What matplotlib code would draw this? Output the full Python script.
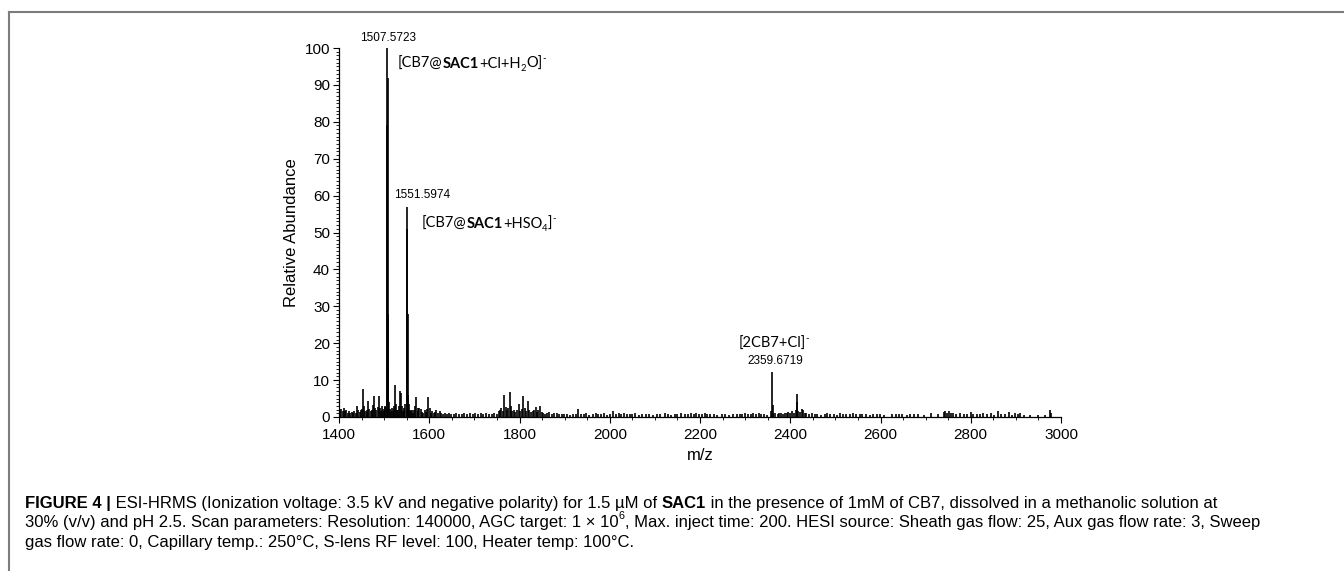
import matplotlib
matplotlib.use("Agg")
import matplotlib.pyplot as plt
from matplotlib.font_manager import FontProperties
from matplotlib.lines import Line2D
from matplotlib.ticker import MultipleLocator

# ===== DATA =====
MZ = [
    1401, 1403, 1405, 1408, 1410, 1413, 1416, 1419, 1422, 1425, 1428, 1431, 1434, 1437, 1440, 1443, 1446, 1449,
    1451, 1453, 1455, 1458, 1461, 1463, 1465, 1467, 1470, 1473, 1476, 1478, 1480, 1483, 1486, 1489, 1491, 1493,
    1495, 1497, 1499, 1501, 1503,
    1505.57, 1506.57, 1507.5723, 1508.57, 1509.57, 1511, 1513, 1515, 1517, 1519, 1521,
    1522, 1524, 1526, 1529, 1531, 1533, 1535, 1537, 1539, 1541, 1543, 1545, 1547,
    1550.60, 1551.5974, 1552.60, 1553.60, 1555, 1557, 1559, 1561, 1564, 1567, 1569, 1571, 1574, 1576, 1578,
    1581, 1584, 1587, 1590, 1593, 1596, 1598, 1601, 1604, 1607, 1610, 1613, 1616, 1619, 1623, 1627, 1631,
    1635, 1639, 1643, 1648, 1654, 1660, 1666, 1672, 1678, 1684, 1690, 1696, 1702, 1708, 1714, 1720, 1726,
    1732, 1738, 1744, 1750, 1754,
    1757, 1760, 1763, 1766, 1769, 1772, 1775, 1778, 1781, 1784, 1788, 1791, 1795, 1798, 1802, 1805, 1808,
    1812, 1815, 1818, 1822, 1826, 1829, 1832, 1836, 1839, 1842, 1845, 1849, 1853, 1857, 1861, 1866, 1871,
    1876, 1882, 1888, 1894, 1899, 1906, 1912, 1918, 1925, 1930, 1936, 1943, 1948, 1955, 1962, 1969, 1975,
    1981, 1988, 1994,
    2001, 2008, 2014, 2020, 2026, 2032, 2038, 2044, 2050, 2056, 2064, 2072, 2080, 2088, 2096, 2104, 2112,
    2122, 2128, 2136, 2144, 2150, 2158, 2166, 2174, 2180, 2186, 2192, 2198, 2204, 2210, 2216, 2222, 2230,
    2238, 2248, 2256, 2264, 2274, 2282, 2288, 2294, 2300, 2306, 2312, 2318, 2324, 2330, 2336, 2342, 2348,
    2357.7, 2359.6719, 2360.7, 2362, 2366, 2372, 2376, 2380, 2384, 2388, 2392, 2396, 2400, 2404, 2408,
    2412, 2414.5, 2416, 2418, 2422, 2426, 2428, 2432, 2436, 2442, 2448, 2454, 2460, 2468, 2476, 2482, 2488,
    2496, 2504, 2510, 2516, 2524, 2532, 2538, 2546, 2554, 2560, 2568,
    2576, 2584, 2592, 2598, 2608, 2626, 2634, 2640, 2648, 2658, 2666, 2674, 2682, 2696, 2712, 2728, 2740,
    2744, 2748, 2752, 2756, 2760, 2768, 2776, 2784, 2792, 2800, 2806, 2814, 2820, 2828, 2836, 2844, 2852,
    2860, 2868, 2876, 2884, 2892, 2898, 2904, 2910, 2918, 2932, 2948, 2964, 2976, 2978,
]
ABUNDANCE = [
    2.6, 1.8, 2.2, 1.5, 2.4, 1.6, 1.9, 1.2, 1.5, 1.0, 1.3, 1.1, 1.6, 1.2, 3.0, 1.8, 1.4, 2.0,
    2.2, 7.6, 3.0, 1.5, 2.0, 1.3, 4.4, 2.2, 1.5, 2.0, 3.2, 5.8, 2.5, 1.8, 2.6, 5.8, 2.4, 1.6,
    3.0, 2.2, 1.5, 2.6, 3.0,
    79, 100, 92, 28, 13, 4.0, 2.2, 1.5, 2.5, 1.6, 2.2,
    3.0, 8.7, 3.5, 2.0, 1.8, 3.0, 7.1, 6.4, 3.0, 1.6, 2.4, 2.0, 3.5,
    51, 57, 28, 6.0, 3.5, 2.0, 1.5, 1.8, 1.2, 2.0, 3.0, 5.3, 2.5, 1.6, 2.5,
    2.2, 1.3, 1.2, 1.8, 1.4, 2.2, 5.5, 2.4, 1.2, 1.6, 1.0, 1.4, 1.8, 1.2, 1.5, 1.0, 0.9,
    1.2, 0.8, 1.0, 0.9, 0.8, 1.0, 0.7, 0.9, 1.1, 0.8, 1.0, 0.9, 1.2, 0.8, 1.0, 0.7, 1.1,
    0.9, 0.8, 1.2, 0.9, 1.5,
    2.0, 2.5, 1.6, 6.0, 2.8, 1.8, 2.5, 6.9, 3.0, 1.5, 2.0, 1.4, 1.8, 3.5, 1.6, 2.2, 5.7,
    2.4, 1.5, 4.4, 2.0, 1.3, 1.6, 2.0, 2.6, 1.4, 1.8, 3.0, 1.4, 1.0, 0.8, 1.0, 1.4, 0.8,
    1.0, 1.1, 0.8, 0.7, 0.9, 0.8, 0.6, 0.9, 0.7, 2.3, 0.8, 0.7, 1.0, 0.6, 0.8, 1.0, 0.7,
    0.9, 1.0, 0.6,
    0.8, 1.6, 0.9, 1.0, 0.8, 1.0, 0.7, 0.9, 0.8, 1.0, 0.6, 0.8, 0.7, 0.9, 0.6, 0.7, 0.8,
    1.0, 0.7, 0.6, 0.9, 0.8, 1.0, 0.7, 0.9, 1.0, 0.8, 1.0, 0.8, 0.9, 1.0, 0.7, 0.9, 0.8,
    0.6, 0.7, 0.9, 0.6, 0.7, 0.8, 0.9, 0.7, 1.0, 0.8, 0.9, 1.1, 0.8, 1.0, 0.7, 0.9, 0.6,
    1.5, 12.2, 3.2, 1.0, 1.0, 0.8, 1.2, 1.0, 0.8, 1.2, 1.0, 1.4, 1.2, 1.6, 1.0,
    1.8, 6.2, 4.0, 1.5, 1.3, 2.3, 2.0, 1.0, 1.2, 0.8, 1.0, 0.7, 0.9, 0.6, 0.8, 1.0, 0.7,
    0.8, 0.6, 1.0, 0.8, 0.9, 0.7, 1.0, 0.8, 0.9, 0.7, 0.8,
    0.6, 0.8, 0.7, 0.9, 0.6, 0.7, 0.9, 0.7, 0.8, 0.6, 0.9, 0.7, 0.8, 0.6, 1.0, 0.7, 1.4,
    1.6, 1.2, 1.7, 1.0, 1.2, 0.8, 1.0, 0.7, 0.9, 1.3, 0.7, 0.9, 0.8, 1.0, 0.7, 1.2, 0.6,
    1.5, 0.7, 0.8, 1.3, 0.6, 1.0, 0.8, 1.1, 0.5, 0.5, 0.6, 0.5, 1.9, 1.2,
]

# peak m/z labels: (text, x, baseline y, alignment)
PEAK_LABELS = ["1507.5723", "1551.5974", "2359.6719"]
PEAK_LABEL_POS = [(1508, 101.8, "center"), (1522, 59.3, "left"), (2366, 14.4, "center")]

# ion assignments as runs of (text, style)
ION_LABELS = [
    [("[CB7@", "n"), ("SAC1", "b"), ("+Cl+H", "n"), ("2", "sub"), ("O]", "n"), ("-", "sup")],
    [("[CB7@", "n"), ("SAC1", "b"), ("+HSO", "n"), ("4", "sub"), ("]", "n"), ("-", "sup")],
    [("[2CB7+Cl]", "n"), ("-", "sup")],
]
ION_LABEL_POS = [(1531, 94.6, "left"), (1584, 51.2, "left"), (2364, 18.7, "center")]

CAPTION = [
    [("FIGURE 4 |", "b"), (" ESI-HRMS (Ionization voltage: 3.5 kV and negative polarity) for 1.5 \u00b5M of ", "n"),
     ("SAC1", "b"), (" in the presence of 1mM of CB7, dissolved in a methanolic solution at", "n")],
    [("30% (v/v) and pH 2.5. Scan parameters: Resolution: 140000, AGC target: 1 \u00d7 10", "n"), ("6", "sup"),
     (", Max. inject time: 200. HESI source: Sheath gas flow: 25, Aux gas flow rate: 3, Sweep", "n")],
    [("gas flow rate: 0, Capillary temp.: 250\u00b0C, S-lens RF level: 100, Heater temp: 100\u00b0C.", "n")],
]

# ===== STYLE =====
FIG_W, FIG_H = 1344, 571
AXIS_FONT = "Liberation Sans"
ION_FONT = ["Lato", "DejaVu Sans"]
BORDER_COLOR = "#7d7d7d"

plt.rcParams["font.family"] = AXIS_FONT


def text_width(renderer, s, prop):
    w1, _, _ = renderer.get_text_width_height_descent("|" + s + "|", prop, ismath=False)
    w0, _, _ = renderer.get_text_width_height_descent("||", prop, ismath=False)
    return w1 - w0


def draw_runs(fig, renderer, x_px, y_px, runs, size, family, ha="left"):
    pieces = []
    for text, style in runs:
        fs = size * 0.65 if style in ("sub", "sup") else size
        weight = "bold" if style == "b" else "normal"
        prop = FontProperties(family=family, size=fs, weight=weight)
        pieces.append((text, style, prop, text_width(renderer, text, prop)))
    if ha == "center":
        x_px -= sum(p[3] for p in pieces) / 2
    px_per_pt = fig.dpi / 72
    for text, style, prop, w in pieces:
        dy = {"sub": -0.22 * size, "sup": 0.5 * size}.get(style, 0.0) * px_per_pt
        fig.text(x_px / FIG_W, (y_px + dy) / FIG_H, text, fontproperties=prop, va="baseline", ha="left")
        x_px += w


def main() -> None:
    fig = plt.figure(figsize=(FIG_W / 100, FIG_H / 100), dpi=100)
    renderer = fig.canvas.get_renderer()
    ax = fig.add_axes([339 / FIG_W, 1 - 417 / FIG_H, 722 / FIG_W, 369 / FIG_H])

    ax.vlines(MZ, 0, ABUNDANCE, color="black", linewidth=1.2)
    ax.set_xlim(1400, 3000)
    ax.set_ylim(0, 100)
    ax.spines["top"].set_visible(False)
    ax.spines["right"].set_visible(False)
    for side in ("left", "bottom"):
        ax.spines[side].set_linewidth(0.9)
    ax.xaxis.set_major_locator(MultipleLocator(200))
    ax.xaxis.set_minor_locator(MultipleLocator(50))
    ax.yaxis.set_major_locator(MultipleLocator(10))
    ax.yaxis.set_minor_locator(MultipleLocator(1))
    ax.tick_params(which="major", direction="out", length=4.5, width=0.8, labelsize=11, pad=2)
    ax.tick_params(axis="x", which="major", pad=3.5)
    ax.tick_params(which="minor", direction="out", length=2.5, width=0.6)
    ax.text(-0.066, 0.5, "Relative Abundance", transform=ax.transAxes, rotation=90,
            ha="center", va="center", fontsize=12)
    ax.text(0.5, -0.103, "m/z", transform=ax.transAxes, ha="center", va="center", fontsize=12)

    for label, (x, y, ha) in zip(PEAK_LABELS, PEAK_LABEL_POS):
        px, py = ax.transData.transform((x, y))
        draw_runs(fig, renderer, px, py, [(label, "n")], 8.5, AXIS_FONT, ha)
    for runs, (x, y, ha) in zip(ION_LABELS, ION_LABEL_POS):
        px, py = ax.transData.transform((x, y))
        draw_runs(fig, renderer, px, py, runs, 10.5, ION_FONT, ha)

    for i, runs in enumerate(CAPTION):
        draw_runs(fig, renderer, 25, FIG_H - 508 - 19.5 * i, runs, 12, AXIS_FONT)

    # frame lines of the figure panel
    fig.add_artist(Line2D([9 / FIG_W, 1], [1 - 12 / FIG_H] * 2, transform=fig.transFigure,
                          color=BORDER_COLOR, linewidth=1.5))
    fig.add_artist(Line2D([9 / FIG_W] * 2, [0, 1 - 12 / FIG_H], transform=fig.transFigure,
                          color=BORDER_COLOR, linewidth=1.5))

    fig.savefig("out.png", dpi=100, facecolor="white")


if __name__ == "__main__":
    main()
